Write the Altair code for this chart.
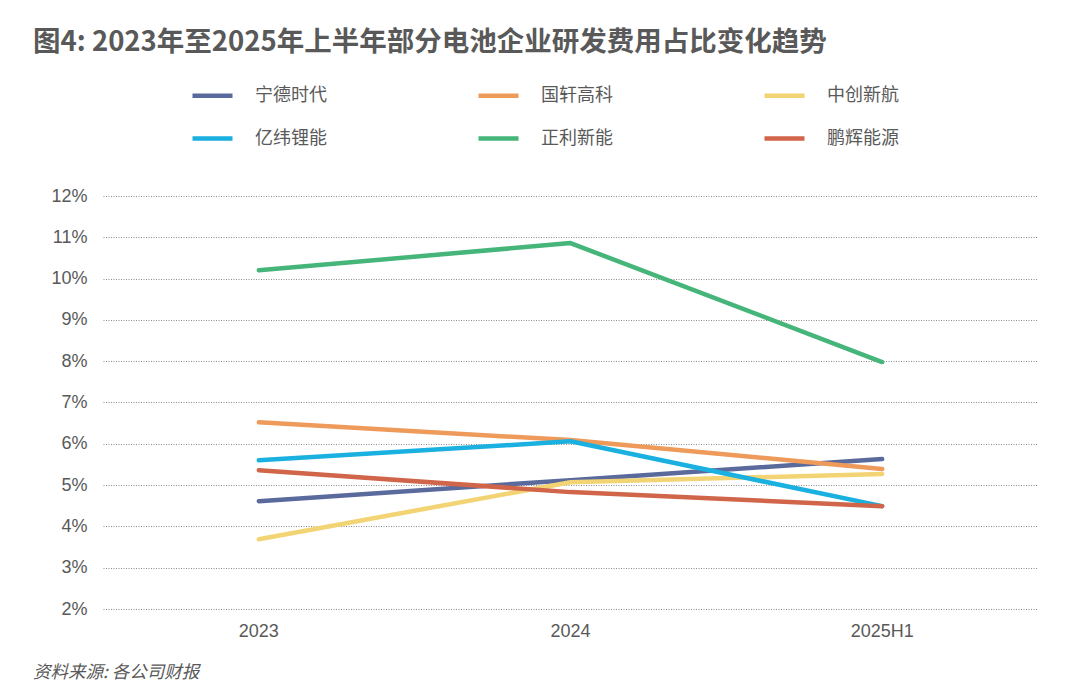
import altair as alt
import pandas as pd

periods = ["2023", "2024", "2025H1"]
companies = ["宁德时代", "国轩高科", "中创新航", "亿纬锂能", "正利新能", "鹏辉能源"]
colors = ["#5a6a9c", "#ee9a5a", "#f3d474", "#1ab0e0", "#46b57a", "#d0654a"]

v_catl = [4.61, 5.12, 5.63]
v_gotion = [6.52, 6.09, 5.39]
v_calb = [3.69, 5.07, 5.27]
v_eve = [5.60, 6.06, 4.49]
v_zl = [10.20, 10.86, 7.98]
v_ph = [5.36, 4.83, 4.49]

series = [v_catl, v_gotion, v_calb, v_eve, v_zl, v_ph]
rows = []
for name, vals in zip(companies, series):
    for p, v in zip(periods, vals):
        rows.append({"period": p, "company": name, "value": v / 100})
df = pd.DataFrame(rows)

title_text = "图4: 2023年至2025年上半年部分电池企业研发费用占比变化趋势"
source_text = "资料来源: 各公司财报"

W, H = 935, 413

lines = alt.Chart(df).mark_line(strokeWidth=4.5, strokeCap="round", strokeJoin="round").encode(
    x=alt.X("period:N", sort=periods, title=None,
            scale=alt.Scale(type="band", paddingInner=0, paddingOuter=0),
            axis=alt.Axis(labelAngle=0, labelFontSize=18, labelColor="#595959",
                          labelFont="Liberation Sans", domain=False, ticks=False,
                          labelPadding=13, grid=False, bandPosition=0.5)),
    y=alt.Y("value:Q", title=None,
            scale=alt.Scale(domain=[0.02, 0.12], nice=False, zero=False),
            axis=alt.Axis(format=".0%", values=[0.02, 0.03, 0.04, 0.05, 0.06, 0.07, 0.08, 0.09, 0.10, 0.11, 0.12],
                          labelFontSize=18, labelColor="#595959", labelFont="Liberation Sans",
                          domain=False, ticks=False, labelPadding=16,
                          grid=True, gridColor="#8a8a8a", gridDash=[1, 1.5], gridWidth=1)),
    color=alt.Color("company:N", sort=companies,
                    scale=alt.Scale(domain=companies, range=colors),
                    legend=alt.Legend(title=None, orient="none", legendX=87, legendY=-123,
                                      direction="horizontal",
                                      columns=3, columnPadding=142, rowPadding=11,
                                      symbolType="stroke", symbolSize=1600, symbolStrokeWidth=4.5,
                                      labelFontSize=18, labelColor="#595959",
                                      labelFont="Noto Sans CJK SC", labelOffset=20,
                                      gridAlign="all", labelLimit=200)),
    order=alt.Order("company:N")
)

title = alt.Chart(pd.DataFrame({"t": [title_text]})).mark_text(
    align="left", baseline="alphabetic", fontSize=27.5, fontWeight="bold",
    font="Noto Sans CJK SC", color="#595959"
).encode(text="t:N", x=alt.value(-70), y=alt.value(-145))

source = alt.Chart(pd.DataFrame({"t": [source_text]})).mark_text(
    align="left", baseline="alphabetic", fontSize=17.5, fontStyle="italic",
    font="Noto Sans CJK SC", color="#595959"
).encode(text="t:N", x=alt.value(-70), y=alt.value(482))

chart = alt.layer(lines, title, source).properties(
    width=W, height=H,
    autosize=alt.AutoSizeParams(type="none"),
    padding={"left": 95, "top": 188, "right": 34, "bottom": 79},
    background="white"
).configure_view(stroke=None)

chart.save("out.html", embed_options={"renderer": "svg", "actions": False})
